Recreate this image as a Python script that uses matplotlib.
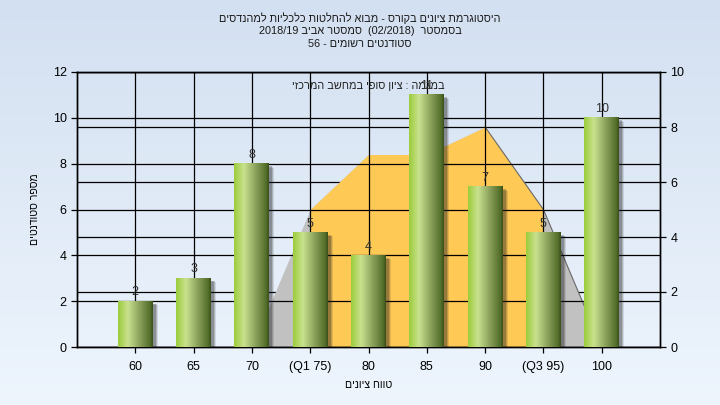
import re
import numpy as np
import matplotlib
matplotlib.use('Agg')
import matplotlib.pyplot as plt
import matplotlib.transforms as mtransforms
from matplotlib.colors import LinearSegmentedColormap
from matplotlib.patches import Rectangle

# נתונים
categories = ['60', '65', '70', '(Q1 75)', '80', '85', '90', '(Q3 95)', '100']
students = [2, 3, 8, 5, 4, 11, 7, 5, 10]
curve = [0, 0, 0, 5, 7, 7, 8, 5, 0]          # ציר ימני
iqr_mask = [False, False, False, True, True, True, True, True, False]

title_lines = ['היסטוגרמת ציונים בקורס - מבוא להחלטות כלכליות למהנדסים',
               'בסמסטר  (02/2018)  סמסטר אביב 2018/19',
               'סטודנטים רשומים - 56']
note = 'במגמה : ציון סופי במחשב המרכזי'
ylabel = 'מספר סטודנטים'
xlabel = 'טווח ציונים'

FONT = ['Liberation Sans', 'DejaVu Sans']
plt.rcParams['font.family'] = FONT


def heb(s):
    # matplotlib has no bidi: flip to visual order, keep numbers as they are
    r = s[::-1].translate(str.maketrans('()', ')('))
    return re.sub(r'[0-9A-Za-z/.]+', lambda m: m.group(0)[::-1], r)


fig = plt.figure(figsize=(7.2, 4.05), dpi=100)

# רקע מדורג
bg = fig.add_axes([0, 0, 1, 1], zorder=-5)
bg_cmap = LinearSegmentedColormap.from_list('bg', ['#d3e0f1', '#eef5fd'])
bg.imshow(np.linspace(0, 1, 256).reshape(-1, 1), cmap=bg_cmap, aspect='auto',
          extent=(0, 1, 0, 1))
bg.set_axis_off()

rect = [77 / 720, 1 - 347 / 405, (660 - 77) / 720, (347 - 72) / 405]
ax = fig.add_axes(rect)
ax2 = ax.twinx()
ax.set_zorder(ax2.get_zorder() + 1)
ax.patch.set_visible(False)
ax2.patch.set_facecolor('#b2b2b2')

x = np.arange(len(categories))

# עקומה - ציר ימני
ax2.fill_between(x, curve, color='#c1c1c1', lw=0, zorder=1)
ax2.fill_between(x, curve, where=iqr_mask, color='#fec955', lw=0, zorder=2)
ax2.plot(x[6:], curve[6:], color='#6a6a6a', lw=0.8, zorder=3)
ax2.set_ylim(0, 10)
ax2.set_yticks(np.arange(0, 11, 2))
ax2.grid(axis='y', color='black', lw=0.9, zorder=0)
ax2.set_axisbelow(True)

# עמודות
w = 0.6
bar_cmap = LinearSegmentedColormap.from_list(
    'bar', [(0, '#9ccc3c'), (0.28, '#c9e28e'), (0.6, '#8fa55f'), (0.93, '#526d29'), (1, '#3d4f1c')])
grad = np.linspace(0, 1, 100).reshape(1, -1)
for xi, v in zip(x, students):
    for k, (d, a) in enumerate([(5, 0.12), (4, 0.18), (3, 0.25)]):
        tr = mtransforms.offset_copy(ax.transData, fig=fig, x=d, y=-d * 0.8, units='dots')
        ax.add_patch(Rectangle((xi - w / 2, 0), w, v, transform=tr, color='#202020',
                               alpha=a, lw=0, zorder=2))
    ax.imshow(grad, cmap=bar_cmap, aspect='auto', extent=(xi - w / 2, xi + w / 2, 0, v),
              zorder=3, interpolation='bilinear')
    ax.annotate(str(v), (xi, v), xytext=(0, 2), textcoords='offset points',
                ha='center', va='bottom', fontsize=9, color='#303030', zorder=5)

ax.set_xlim(-1, 9)
ax.set_ylim(0, 12)
ax.set_yticks(np.arange(0, 13, 2))
ax.set_xticks(x)
ax.set_xticklabels(categories)
ax.grid(color='black', lw=0.9)
ax.set_axisbelow(True)

for a in (ax, ax2):
    a.tick_params(labelsize=9, colors='black', length=4, width=0.9)
    for s in a.spines.values():
        s.set_linewidth(1)
ax.tick_params(axis='x', pad=6)

ax.text(0.5, 0.95, heb(note), transform=ax.transAxes, ha='center', va='center',
        fontsize=7.8, color='#222222', zorder=1)

ax.set_ylabel(heb(ylabel), fontsize=7.6, labelpad=9)
ax.set_xlabel(heb(xlabel), fontsize=7.6, labelpad=5)

for i, line in enumerate(title_lines):
    fig.text(0.5, 1 - (18 + 13 * i) / 405, heb(line), ha='center', va='center',
             fontsize=7.8, color='#1a1a1a')

fig.savefig('out.png', dpi=100)
